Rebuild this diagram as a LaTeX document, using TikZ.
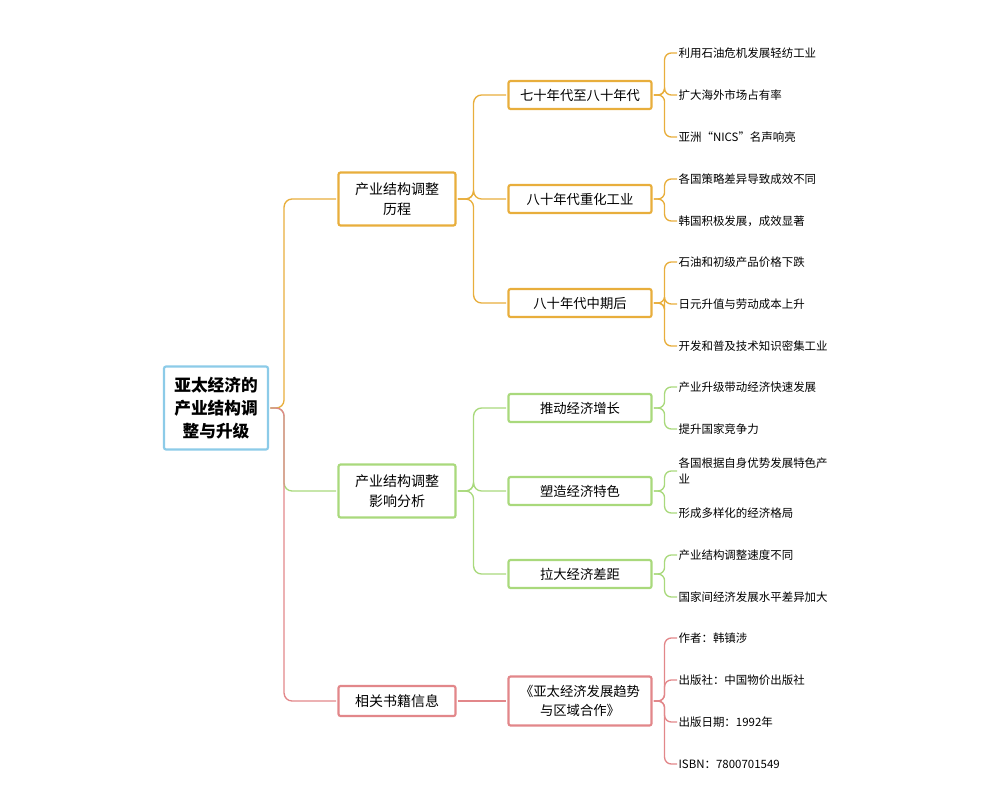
\documentclass[tikz,border=0pt]{standalone}
\usepackage{fontspec}
\setmainfont{Noto Sans CJK SC}
\begin{document}
\begin{tikzpicture}[x=0.75pt,y=-0.75pt,
 box/.style={draw=#1,line width=1.6pt,rounded corners=1.5pt,fill=white,align=center,inner sep=2pt},
 root/.style={box=cblue,minimum width=104*0.75pt,minimum height=83*0.75pt,font=\fontsize{12.5}{17}\selectfont\bfseries},
 lone/.style={box=#1,minimum width=117*0.75pt,font=\fontsize{10.5}{15}\selectfont},
 ltwo/.style={box=#1,minimum width=143*0.75pt,minimum height=28*0.75pt,font=\fontsize{10}{14}\selectfont},
 leaf/.style={anchor=west,align=left,inner sep=1pt,font=\fontsize{8.6}{12}\selectfont},
 con/.style={draw=#1,line width=1pt,rounded corners=6pt}]
\definecolor{cblue}{HTML}{8CCBE8}
\definecolor{corange}{HTML}{E8AE3C}
\definecolor{cgreen}{HTML}{A9D97C}
\definecolor{cred}{HTML}{E2878A}
\useasboundingbox (0,0) rectangle (1000,800);
\begin{scope}[on background layer/.style={}]
\coordinate (ra) at (283,408);
\end{scope}
\node[root] (r) at (216,408) {亚太经济的\\产业结构调\\整与升级};
\node[lone=corange,minimum height=53*0.75pt] (a) at (397,199) {产业结构调整\\历程};
\node[lone=cgreen,minimum height=53*0.75pt] (b) at (397,491) {产业结构调整\\影响分析};
\node[lone=cred,minimum height=30*0.75pt] (c) at (397,701) {相关书籍信息};
\node[ltwo=corange] (a1) at (580,95) {七十年代至八十年代};
\node[ltwo=corange] (a2) at (580,199) {八十年代重化工业};
\node[ltwo=corange] (a3) at (580,303) {八十年代中期后};
\node[ltwo=cgreen] (b1) at (580,408) {推动经济增长};
\node[ltwo=cgreen] (b2) at (580,491) {塑造经济特色};
\node[ltwo=cgreen] (b3) at (580,574) {拉大经济差距};
\node[ltwo=cred,minimum height=49*0.75pt] (c1) at (580,701) {《亚太经济发展趋势\\与区域合作》};
\foreach \n/\c in {a/corange,b/cgreen,c/cred} \draw[con=\c,shorten <=1pt,shorten >=1pt] (r.east) -- ++(15,0) |- (\n.west);
\foreach \p/\n/\c in {a/a1/corange,a/a2/corange,a/a3/corange,b/b1/cgreen,b/b2/cgreen,b/b3/cgreen}
  \draw[con=\c,shorten <=1pt,shorten >=1pt] (\p.east) -- ++(17,0) |- (\n.west);
\draw[con=cred,shorten <=1pt,shorten >=1pt] (c.east) -- (c1.west);
\newcommand\leaves[3]{%
 \foreach \y/\t [count=\i] in {#3} {
  \node[leaf] (#1l\i) at (677,\y) {\t};
  \draw[con=#2,rounded corners=5pt,shorten <=1pt] (#1.east) -- ++(12,0) |- (#1l\i.west);
 }}
\leaves{a1}{corange}{53/利用石油危机发展轻纺工业,95/扩大海外市场占有率,137/亚洲“NICS”名声响亮}
\leaves{a2}{corange}{179/各国策略差异导致成效不同,221/韩国积极发展，成效显著}
\leaves{a3}{corange}{262/石油和初级产品价格下跌,304/日元升值与劳动成本上升,346/开发和普及技术知识密集工业}
\leaves{b1}{cgreen}{387/产业升级带动经济快速发展,429/提升国家竞争力}
\leaves{b2}{cgreen}{471/{各国根据自身优势发展特色产\\业},513/形成多样化的经济格局}
\leaves{b3}{cgreen}{555/产业结构调整速度不同,597/国家间经济发展水平差异加大}
\leaves{c1}{cred}{638/作者：韩镇涉,680/出版社：中国物价出版社,722/出版日期：1992年,764/ISBN：7800701549}
\end{tikzpicture}
\end{document}
